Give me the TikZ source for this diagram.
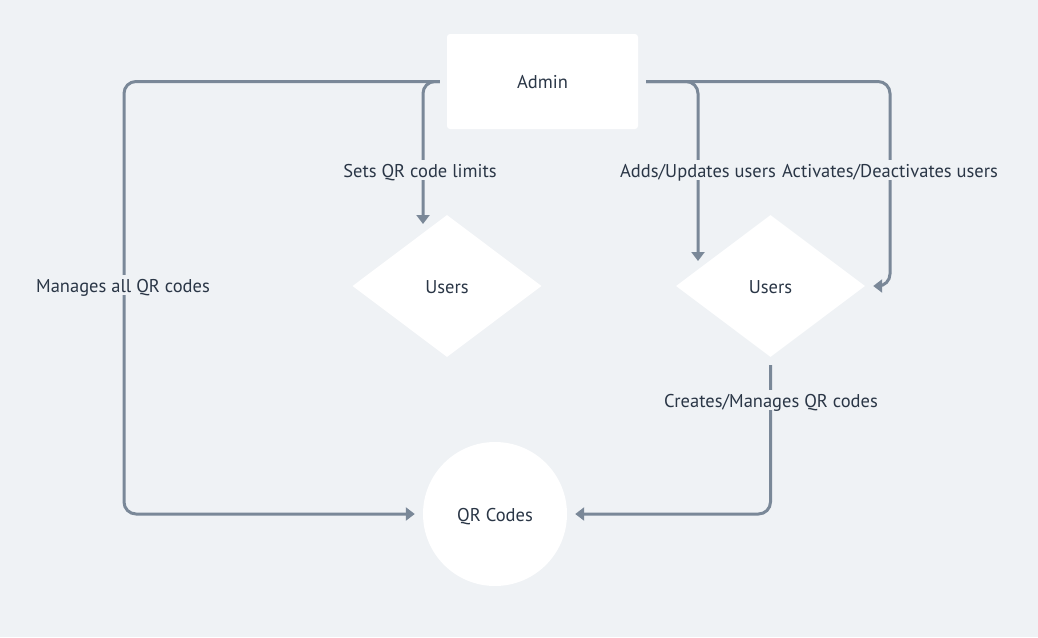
\documentclass[tikz,border=0pt]{standalone}
\usepackage{fontspec}
\setmainfont{PT Sans}
\usetikzlibrary{arrows.meta,shapes.geometric}
\definecolor{bg}{HTML}{EFF2F5}
\definecolor{ln}{HTML}{7A8898}
\definecolor{tx}{HTML}{2A3646}
\tikzset{
  every node/.style={font=\fontsize{18.5}{22}\selectfont, text=tx, text height=14pt, text depth=0pt},
  boxnode/.style={draw=none, fill=white, rounded corners=3pt, minimum width=191pt, minimum height=95pt, inner sep=0pt},
  dianode/.style={diamond, fill=white, minimum width=189pt, minimum height=142pt, inner sep=0pt},
  circnode/.style={circle, fill=white, minimum size=144pt, inner sep=0pt},
  conn/.style={draw=ln, line width=3pt, rounded corners=12pt, -{Triangle[length=9pt,width=13pt]}},
  lbl/.style={fill=bg, inner sep=3pt}
}
\begin{document}
\begin{tikzpicture}[x=1pt,y=-1pt]
\useasboundingbox[fill=bg] (0,0) rectangle (1038,637);
\node[boxnode] (admin) at (542.5,81.5) {Admin};
\node[dianode] (u1) at (447,286) {Users};
\node[dianode] (u2) at (770.5,286) {Users};
\node[circnode] (qr) at (495,514) {QR Codes};
\coordinate (c1) at (124,514);
\coordinate (e2) at (423,224);
\coordinate (e3) at (698,261);
\coordinate (c4) at (890,286);
% connectors
\draw[conn, shorten <=7pt, shorten >=8pt] (admin.west) -| (c1) -- (qr.west);
\draw[conn, shorten <=7pt] (admin.west) -| (e2);
\draw[conn, shorten <=8pt] (admin.east) -| (e3);
\draw[conn, shorten <=8pt, shorten >=8pt] (admin.east) -| (c4) -- (u2.east);
\draw[conn, shorten <=8pt, shorten >=8pt] (u2.south) |- (qr.east);
% labels
\node[lbl] (l1) at (123,285) {Manages all QR codes};
\node[lbl] (l2) at (420,170) {Sets QR code limits};
\node[lbl] (l3) at (698,170) {Adds/Updates users};
\node[lbl] (l4) at (890,170) {Activates/Deactivates users};
\node[lbl] (l5) at (771,400) {Creates/Manages QR codes};
\end{tikzpicture}
\end{document}
